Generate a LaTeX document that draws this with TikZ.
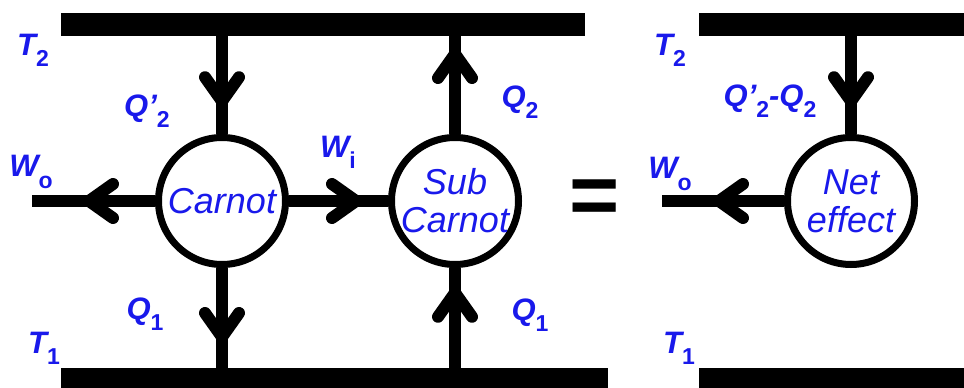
\documentclass[tikz,border=0pt]{standalone}
\usepackage{fontspec}
\setmainfont{Liberation Sans}
\usetikzlibrary{arrows.meta,decorations.markings}

\definecolor{labblue}{RGB}{25,25,235}
\newcommand\lowsub[1]{\raisebox{-0.36em}{\fontsize{23}{23}\selectfont\upshape #1}}

\begin{document}
\begin{tikzpicture}[
  x=1pt, y=-1pt,
  reservoir/.style={fill=black, inner sep=0pt, minimum height=23pt, anchor=west},
  engine/.style={draw, line width=7pt, circle, minimum size=127pt, inner sep=0pt,
    fill=white, text=labblue, align=center,
    font=\fontsize{36}{38}\selectfont\itshape},
  flow/.style={line width=12pt, postaction={decorate}},
  tipat/.style={decoration={markings, mark=at position #1 with
    {\arrow{Straight Barb[length=24pt, width=34pt, round, line width=12pt]}}}},
  lab/.style={text=labblue, inner sep=0pt,
    font=\fontsize{31}{33}\selectfont\bfseries\itshape},
]
\useasboundingbox (0,0) rectangle (964,388);

% --- Waermebehaelter oben / unten ---
\node[reservoir, minimum width=524pt] (hotL) at (61,24.5) {};
\node[reservoir, minimum width=547pt] (coldL) at (61,379.5) {};
\node[reservoir, minimum width=275pt] (hotR) at (699,24.5) {};
\node[reservoir, minimum width=275pt] (coldR) at (699,379.5) {};

% --- Maschinen ---
\node[engine] (carnot) at (222,201) {Carnot};
\node[engine] (sub) at (455,201) {Sub\\Carnot};
\node[engine] (net) at (851,201) {Net\\effect};

\coordinate (woL) at (32,201);
\coordinate (woR) at (662,201);

% --- Energiefluesse ---
\draw[flow, tipat=71pt] (carnot |- hotL.south) -- (carnot);
\draw[flow, tipat=75pt] (carnot) -- (carnot |- coldL.north);
\draw[flow, tipat=72pt] (carnot) -- (woL);
\draw[flow, tipat=73pt] (carnot) -- (sub);
\draw[flow, tipat=86pt] (sub) -- (sub |- hotL.south);
\draw[flow, tipat=81pt] (sub |- coldL.north) -- (sub);
\draw[flow, tipat=71pt] (net |- hotR.south) -- (net);
\draw[flow, tipat=71pt] (net) -- (woR);

% --- Beschriftungen ---
\node[lab] (t2L) at (33,50) {T\lowsub{2}};
\node[lab] (t1L) at (44,348) {T\lowsub{1}};
\node[lab] (q2pL) at (147,111) {Q’\lowsub{2}};
\node[lab] (woLl) at (31,172) {W\lowsub{o}};
\node[lab] (q1L) at (145,314) {Q\lowsub{1}};
\node[lab] (wi) at (338,152) {W\lowsub{i}};
\node[lab] (q2) at (520,102) {Q\lowsub{2}};
\node[lab] (q1R) at (530,315) {Q\lowsub{1}};
\node[lab] (t2R) at (670,50) {T\lowsub{2}};
\node[lab] (t1R) at (679,348) {T\lowsub{1}};
\node[lab] (qnet) at (770,101) {Q’\lowsub{2}-Q\lowsub{2}};
\node[lab] (woRl) at (670,174) {W\lowsub{o}};

\node[inner sep=0pt, font=\fontsize{86}{86}\selectfont\bfseries] (eq) at (595,202) {=};

\end{tikzpicture}
\end{document}
